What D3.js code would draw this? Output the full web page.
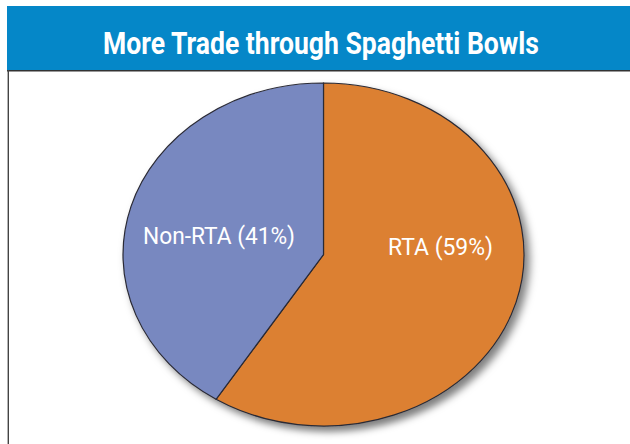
<!DOCTYPE html>
<html>
<head>
<meta charset="utf-8">
<script src="https://cdn.jsdelivr.net/npm/d3@7"></script>
<style>
  html, body { margin: 0; padding: 0; background: #fff; }
  svg { display: block; }
</style>
</head>
<body>
<svg id="chart" width="630" height="444"></svg>
<script>
const title = "More Trade through Spaghetti Bowls";
const categories = ["RTA", "Non-RTA"];
const values = [59, 41];
const colors = ["#dc8030", "#7888c0"];

const svg = d3.select("#chart");
const W = 630, H = 444;

// defs: drop shadow
const defs = svg.append("defs");
const f = defs.append("filter").attr("id", "shadow")
  .attr("x", "-10%").attr("y", "-10%").attr("width", "125%").attr("height", "130%");
f.append("feDropShadow").attr("dx", 5).attr("dy", 6).attr("stdDeviation", 4.5)
  .attr("flood-color", "#000").attr("flood-opacity", 0.5);

// title bar
svg.append("rect").attr("x", 7).attr("y", 6).attr("width", W - 7).attr("height", 64)
  .attr("fill", "#0587c8");
svg.append("line").attr("x1", 7).attr("x2", W).attr("y1", 70.8).attr("y2", 70.8)
  .attr("stroke", "#333").attr("stroke-width", 1.6);
svg.append("line").attr("x1", 8.3).attr("x2", 8.3).attr("y1", 70).attr("y2", H)
  .attr("stroke", "#444").attr("stroke-width", 1.4);

svg.append("text")
  .attr("x", 321).attr("y", 54)
  .attr("text-anchor", "middle")
  .attr("font-family", "'Liberation Sans Narrow', 'Roboto', sans-serif")
  .attr("font-weight", "bold")
  .attr("font-size", 32)
  .attr("fill", "#fff")
  .attr("textLength", 436)
  .attr("lengthAdjust", "spacingAndGlyphs")
  .text(title);

// pie
const cx = 323.5, cy = 254.5, R = 200.5, RY = 171.5;
const sy = RY / R;
const data = categories.map((c, i) => ({ cat: c, value: values[i], color: colors[i] }));
const pie = d3.pie().sort(null).value(d => d.value);
const arcs = pie(data);
const arc = d3.arc().innerRadius(0).outerRadius(R);

const g = svg.append("g").attr("transform", `translate(${cx},${cy})`);
const pieG = g.append("g").attr("transform", `scale(1,${sy})`).attr("filter", "url(#shadow)");
pieG.selectAll("path").data(arcs).join("path")
  .attr("d", arc)
  .attr("fill", d => d.data.color)
  .attr("stroke", "#2a2a35")
  .attr("stroke-width", 1.2)
  .attr("vector-effect", "non-scaling-stroke");

// labels
const labelArc = d3.arc().innerRadius(R * 0.6).outerRadius(R * 0.6);
const labelOffset = { "RTA": [1.5, 0.5], "Non-RTA": [11, -10.5] };
g.selectAll("text.lbl").data(arcs).join("text")
  .attr("class", "lbl")
  .attr("x", d => labelArc.centroid(d)[0] + labelOffset[d.data.cat][0])
  .attr("y", d => labelOffset[d.data.cat][1])
  .attr("text-anchor", "middle")
  .attr("font-family", "'Liberation Sans Narrow', 'Roboto', sans-serif")
  .attr("font-size", 23)
  .attr("fill", "#fff")
  .attr("textLength", d => d.data.cat === "RTA" ? 105 : 152)
  .attr("lengthAdjust", "spacingAndGlyphs")
  .text(d => `${d.data.cat} (${d.data.value}%)`);
</script>
</body>
</html>
